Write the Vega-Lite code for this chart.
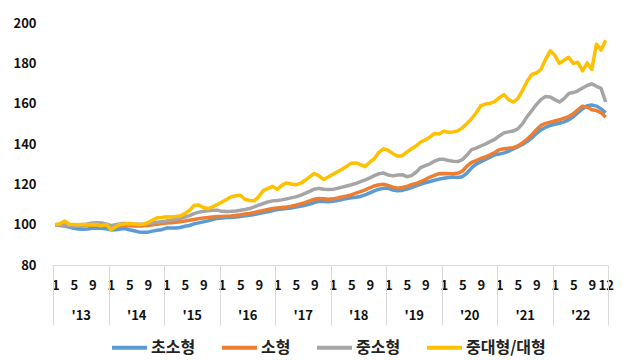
{
  "$schema": "https://vega.github.io/schema/vega-lite/v6.json",
  "width": 555,
  "height": 242,
  "autosize": {"type": "none"},
  "padding": {"left": 53, "top": 23, "right": 19, "bottom": 95},
  "background": "white",
  "config": {
    "view": {"stroke": null},
    "font": "Noto Sans CJK KR",
    "axis": {"labelColor": "#111111", "labelFont": "Noto Sans CJK KR", "labelFontWeight": "bold", "labelFontSize": 13, "title": null, "grid": false}
  },
  "data": {"values": [
    {"m":0,"초소형":100,"소형":100,"중소형":100,"중대형/대형":100},
    {"m":1,"초소형":99.6,"소형":99.9,"중소형":99.8,"중대형/대형":100.5},
    {"m":2,"초소형":99.3,"소형":99.8,"중소형":99.6,"중대형/대형":101.8},
    {"m":3,"초소형":98.8,"소형":99.7,"중소형":99.5,"중대형/대형":100.2},
    {"m":4,"초소형":98.2,"소형":99.6,"중소형":99.4,"중대형/대형":100.1},
    {"m":5,"초소형":97.8,"소형":99.5,"중소형":99.5,"중대형/대형":100.0},
    {"m":6,"초소형":97.7,"소형":99.5,"중소형":99.8,"중대형/대형":100.2},
    {"m":7,"초소형":97.9,"소형":99.6,"중소형":100.3,"중대형/대형":99.8},
    {"m":8,"초소형":98.2,"소형":99.8,"중소형":100.8,"중대형/대형":100.1},
    {"m":9,"초소형":98.4,"소형":99.8,"중소형":101.0,"중대형/대형":100.0},
    {"m":10,"초소형":98.2,"소형":99.6,"중소형":100.8,"중대형/대형":99.5},
    {"m":11,"초소형":98.0,"소형":99.3,"중소형":100.4,"중대형/대형":100.1},
    {"m":12,"초소형":97.4,"소형":98.8,"중소형":99.5,"중대형/대형":97.5},
    {"m":13,"초소형":97.5,"소형":99.0,"중소형":100.0,"중대형/대형":98.8},
    {"m":14,"초소형":97.8,"소형":99.3,"중소형":100.4,"중대형/대형":100.1},
    {"m":15,"초소형":98.1,"소형":99.6,"중소형":100.6,"중대형/대형":100.3},
    {"m":16,"초소형":97.5,"소형":99.5,"중소형":100.5,"중대형/대형":100.6},
    {"m":17,"초소형":97.0,"소형":99.4,"중소형":100.3,"중대형/대형":100.3},
    {"m":18,"초소형":96.4,"소형":99.3,"중소형":100.2,"중대형/대형":100.1},
    {"m":19,"초소형":96.2,"소형":99.4,"중소형":100.3,"중대형/대형":100.2},
    {"m":20,"초소형":96.3,"소형":99.6,"중소형":100.6,"중대형/대형":101.0},
    {"m":21,"초소형":96.8,"소형":99.9,"중소형":100.9,"중대형/대형":102.3},
    {"m":22,"초소형":97.2,"소형":100.2,"중소형":101.2,"중대형/대형":103.4},
    {"m":23,"초소형":97.5,"소형":100.6,"중소형":101.5,"중대형/대형":103.6},
    {"m":24,"초소형":98.3,"소형":100.8,"중소형":101.8,"중대형/대형":103.9},
    {"m":25,"초소형":98.4,"소형":101.0,"중소형":102.2,"중대형/대형":103.8},
    {"m":26,"초소형":98.3,"소형":101.2,"중소형":102.6,"중대형/대형":104.0},
    {"m":27,"초소형":98.6,"소형":101.5,"중소형":103.2,"중대형/대형":104.3},
    {"m":28,"초소형":99.2,"소형":101.8,"중소형":103.8,"중대형/대형":105.5},
    {"m":29,"초소형":99.6,"소형":102.2,"중소형":104.5,"중대형/대형":107.0},
    {"m":30,"초소형":100.4,"소형":102.6,"중소형":105.5,"중대형/대형":109.5},
    {"m":31,"초소형":100.9,"소형":103.0,"중소형":106.2,"중대형/대형":109.8},
    {"m":32,"초소형":101.4,"소형":103.3,"중소형":106.6,"중대형/대형":108.5},
    {"m":33,"초소형":101.9,"소형":103.5,"중소형":106.9,"중대형/대형":108.0},
    {"m":34,"초소형":102.5,"소형":103.8,"중소형":107.1,"중대형/대형":108.8},
    {"m":35,"초소형":103.1,"소형":104.0,"중소형":107.2,"중대형/대형":110.0},
    {"m":36,"초소형":103.3,"소형":104.1,"중소형":106.6,"중대형/대형":111.2},
    {"m":37,"초소형":103.5,"소형":104.2,"중소형":106.5,"중대형/대형":112.5},
    {"m":38,"초소형":103.6,"소형":104.3,"중소형":106.6,"중대형/대형":113.8},
    {"m":39,"초소형":103.8,"소형":104.6,"중소형":106.8,"중대형/대형":114.3},
    {"m":40,"초소형":104.1,"소형":104.9,"중소형":107.1,"중대형/대형":114.6},
    {"m":41,"초소형":104.4,"소형":105.3,"중소형":107.5,"중대형/대형":112.6},
    {"m":42,"초소형":104.7,"소형":105.6,"중소형":108.0,"중대형/대형":112.0},
    {"m":43,"초소형":105.0,"소형":106.0,"중소형":108.8,"중대형/대형":111.8},
    {"m":44,"초소형":105.5,"소형":106.5,"중소형":109.7,"중대형/대형":114.0},
    {"m":45,"초소형":106.0,"소형":107.0,"중소형":110.5,"중대형/대형":117.0},
    {"m":46,"초소형":106.4,"소형":107.5,"중소형":111.3,"중대형/대형":118.0},
    {"m":47,"초소형":107.0,"소형":108.0,"중소형":111.8,"중대형/대형":119.0},
    {"m":48,"초소형":107.5,"소형":108.3,"중소형":112.0,"중대형/대형":117.5},
    {"m":49,"초소형":107.8,"소형":108.5,"중소형":112.3,"중대형/대형":119.6},
    {"m":50,"초소형":108.0,"소형":108.8,"중소형":112.8,"중대형/대형":120.7},
    {"m":51,"초소형":108.3,"소형":109.2,"중소형":113.3,"중대형/대형":120.2},
    {"m":52,"초소형":108.7,"소형":109.7,"중소형":113.8,"중대형/대형":119.8},
    {"m":53,"초소형":109.1,"소형":110.3,"중소형":114.5,"중대형/대형":120.4},
    {"m":54,"초소형":109.6,"소형":110.9,"중소형":115.5,"중대형/대형":122.0},
    {"m":55,"초소형":110.2,"소형":111.8,"중소형":116.5,"중대형/대형":123.7},
    {"m":56,"초소형":111.0,"소형":112.6,"중소형":117.6,"중대형/대형":125.4},
    {"m":57,"초소형":111.6,"소형":113.0,"중소형":118.0,"중대형/대형":124.2},
    {"m":58,"초소형":111.5,"소형":112.8,"중소형":117.6,"중대형/대형":122.4},
    {"m":59,"초소형":111.3,"소형":112.6,"중소형":117.4,"중대형/대형":123.6},
    {"m":60,"초소형":111.6,"소형":112.8,"중소형":117.5,"중대형/대형":125.0},
    {"m":61,"초소형":112.0,"소형":113.2,"중소형":118.0,"중대형/대형":126.2},
    {"m":62,"초소형":112.5,"소형":113.7,"중소형":118.6,"중대형/대형":127.5},
    {"m":63,"초소형":113.0,"소형":114.2,"중소형":119.2,"중대형/대형":129.0},
    {"m":64,"초소형":113.3,"소형":114.8,"중소형":119.8,"중대형/대형":130.5},
    {"m":65,"초소형":113.6,"소형":115.6,"중소형":120.5,"중대형/대형":130.6},
    {"m":66,"초소형":114.0,"소형":116.4,"중소형":121.3,"중대형/대형":129.8},
    {"m":67,"초소형":114.8,"소형":117.3,"중소형":122.2,"중대형/대형":128.8},
    {"m":68,"초소형":115.8,"소형":118.3,"중소형":123.2,"중대형/대형":131.0},
    {"m":69,"초소형":116.8,"소형":119.2,"중소형":124.3,"중대형/대형":132.8},
    {"m":70,"초소형":117.6,"소형":119.8,"중소형":125.3,"중대형/대형":136.0},
    {"m":71,"초소형":118.0,"소형":120.0,"중소형":125.6,"중대형/대형":137.6},
    {"m":72,"초소형":118.0,"소형":119.4,"중소형":124.6,"중대형/대형":136.8},
    {"m":73,"초소형":117.2,"소형":118.6,"중소형":124.2,"중대형/대형":135.2},
    {"m":74,"초소형":116.8,"소형":118.1,"중소형":124.6,"중대형/대형":134.0},
    {"m":75,"초소형":117.0,"소형":118.4,"중소형":124.8,"중대형/대형":134.2},
    {"m":76,"초소형":117.6,"소형":119.0,"중소형":123.8,"중대형/대형":136.0},
    {"m":77,"초소형":118.4,"소형":119.8,"중소형":124.3,"중대형/대형":137.6},
    {"m":78,"초소형":119.2,"소형":120.4,"중소형":126.0,"중대형/대형":139.0},
    {"m":79,"초소형":120.0,"소형":121.3,"중소형":128.3,"중대형/대형":141.0},
    {"m":80,"초소형":120.8,"소형":122.4,"중소형":129.3,"중대형/대형":142.0},
    {"m":81,"초소형":121.4,"소형":123.6,"중소형":130.2,"중대형/대형":143.5},
    {"m":82,"초소형":122.0,"소형":124.5,"중소형":131.5,"중대형/대형":145.2},
    {"m":83,"초소형":122.6,"소형":125.3,"중소형":132.4,"중대형/대형":145.0},
    {"m":84,"초소형":123.0,"소형":125.4,"중소형":132.4,"중대형/대형":146.4},
    {"m":85,"초소형":123.4,"소형":125.2,"중소형":131.8,"중대형/대형":145.8},
    {"m":86,"초소형":123.6,"소형":125.2,"중소형":131.4,"중대형/대형":146.0},
    {"m":87,"초소형":123.4,"소형":125.5,"중소형":131.3,"중대형/대형":146.5},
    {"m":88,"초소형":123.8,"소형":126.5,"중소형":132.2,"중대형/대형":148.0},
    {"m":89,"초소형":125.5,"소형":129.0,"중소형":134.5,"중대형/대형":150.2},
    {"m":90,"초소형":128.2,"소형":130.9,"중소형":137.2,"중대형/대형":152.5},
    {"m":91,"초소형":130.0,"소형":131.8,"중소형":138.0,"중대형/대형":155.5},
    {"m":92,"초소형":131.2,"소형":132.8,"중소형":139.0,"중대형/대형":159.0},
    {"m":93,"초소형":132.4,"소형":133.6,"중소형":140.0,"중대형/대형":159.8},
    {"m":94,"초소형":133.5,"소형":134.6,"중소형":141.2,"중대형/대형":160.2},
    {"m":95,"초소형":134.6,"소형":135.8,"중소형":142.3,"중대형/대형":161.0},
    {"m":96,"초소형":135.0,"소형":137.2,"중소형":144.0,"중대형/대형":163.0},
    {"m":97,"초소형":135.6,"소형":137.6,"중소형":145.5,"중대형/대형":164.5},
    {"m":98,"초소형":136.4,"소형":137.9,"중소형":146.0,"중대형/대형":162.0},
    {"m":99,"초소형":137.5,"소형":138.2,"중소형":146.4,"중대형/대형":160.8},
    {"m":100,"초소형":138.6,"소형":139.0,"중소형":147.5,"중대형/대형":162.5},
    {"m":101,"초소형":139.8,"소형":140.5,"중소형":150.0,"중대형/대형":166.5},
    {"m":102,"초소형":141.2,"소형":142.3,"중소형":153.6,"중대형/대형":171.0},
    {"m":103,"초소형":143.0,"소형":144.5,"중소형":156.5,"중대형/대형":174.5},
    {"m":104,"초소형":145.2,"소형":147.0,"중소형":159.5,"중대형/대형":175.2},
    {"m":105,"초소형":147.0,"소형":149.2,"중소형":162.0,"중대형/대형":177.0},
    {"m":106,"초소형":148.3,"소형":150.2,"중소형":163.6,"중대형/대형":182.0},
    {"m":107,"초소형":149.2,"소형":150.8,"중소형":163.3,"중대형/대형":186.2},
    {"m":108,"초소형":149.8,"소형":151.4,"중소형":162.0,"중대형/대형":184.0},
    {"m":109,"초소형":150.3,"소형":152.0,"중소형":160.8,"중대형/대형":180.0},
    {"m":110,"초소형":151.0,"소형":152.8,"중소형":162.5,"중대형/대형":181.5},
    {"m":111,"초소형":152.0,"소형":153.6,"중소형":165.0,"중대형/대형":183.0},
    {"m":112,"초소형":153.5,"소형":155.0,"중소형":165.5,"중대형/대형":180.0},
    {"m":113,"초소형":155.5,"소형":157.0,"중소형":166.4,"중대형/대형":180.5},
    {"m":114,"초소형":157.5,"소형":158.8,"중소형":167.8,"중대형/대형":176.2},
    {"m":115,"초소형":159.0,"소형":158.3,"중소형":169.0,"중대형/대형":180.2},
    {"m":116,"초소형":159.3,"소형":157.0,"중소형":169.8,"중대형/대형":177.0},
    {"m":117,"초소형":158.8,"소형":156.6,"중소형":168.6,"중대형/대형":189.5},
    {"m":118,"초소형":157.5,"소형":155.6,"중소형":167.6,"중대형/대형":186.6},
    {"m":119,"초소형":155.5,"소형":153.3,"중소형":160.8,"중대형/대형":191.5}
  ]},
  "transform": [
    {"fold": ["초소형", "소형", "중소형", "중대형/대형"], "as": ["유형", "지수"]}
  ],
  "layer": [
    {
      "mark": {"type": "line", "strokeWidth": 3.5, "strokeJoin": "round"},
      "encoding": {
        "x": {
          "field": "m", "type": "quantitative",
          "scale": {"domain": [-0.5, 119.5], "nice": false, "zero": false},
          "axis": {
            "orient": "bottom",
            "values": [0, 4, 8, 12, 16, 20, 24, 28, 32, 36, 40, 44, 48, 52, 56, 60, 64, 68, 72, 76, 80, 84, 88, 92, 96, 100, 104, 108, 112, 116, 119],
            "labelExpr": "'' + (datum.value % 12 + 1)",
            "ticks": false, "domain": false,
            "labelOverlap": false, "labelFlush": false, "labelBound": false,
            "labelPadding": 14
          }
        },
        "y": {
          "field": "지수", "type": "quantitative",
          "scale": {"domain": [80, 200], "nice": false, "zero": false},
          "axis": {
            "values": [80, 100, 120, 140, 160, 180, 200],
            "ticks": false, "domain": false, "labelPadding": 17
          }
        },
        "color": {
          "field": "유형", "type": "nominal",
          "scale": {
            "domain": ["초소형", "소형", "중소형", "중대형/대형"],
            "range": ["#5B9BD5", "#ED7D31", "#A5A5A5", "#FFC000"]
          },
          "legend": {
            "title": null,
            "orient": "none",
            "direction": "horizontal",
            "legendX": 57,
            "legendY": 305,
            "symbolType": "stroke",
            "symbolSize": 1225,
            "symbolStrokeWidth": 4,
            "labelOffset": 2,
            "columnPadding": 18,
            "labelFont": "Noto Sans CJK KR",
            "labelFontSize": 16,
            "labelFontWeight": "bold",
            "labelColor": "#222222"
          }
        }
      }
    },
    {
      "mark": {"type": "rule", "strokeOpacity": 0},
      "encoding": {
        "x": {
          "field": "m", "type": "quantitative",
          "axis": {
            "orient": "bottom",
            "values": [5.5, 17.5, 29.5, 41.5, 53.5, 65.5, 77.5, 89.5, 101.5, 113.5],
            "labelExpr": "\"'\" + (13 + floor(datum.value / 12))",
            "ticks": false, "domain": false,
            "labelOverlap": false, "labelFlush": false, "labelBound": false,
            "labelPadding": 44
          }
        }
      }
    },
    {
      "mark": {"type": "rule", "strokeOpacity": 0},
      "encoding": {
        "x": {
          "field": "m", "type": "quantitative",
          "axis": {
            "orient": "bottom",
            "values": [-0.5, 11.5, 23.5, 35.5, 47.5, 59.5, 71.5, 83.5, 95.5, 107.5, 119.5],
            "labels": false,
            "ticks": true, "tickSize": 60, "tickColor": "#D9D9D9", "tickWidth": 1,
            "domain": true, "domainColor": "#D9D9D9", "domainWidth": 1
          }
        }
      }
    }
  ],
  "resolve": {"axis": {"x": "independent"}}
}
